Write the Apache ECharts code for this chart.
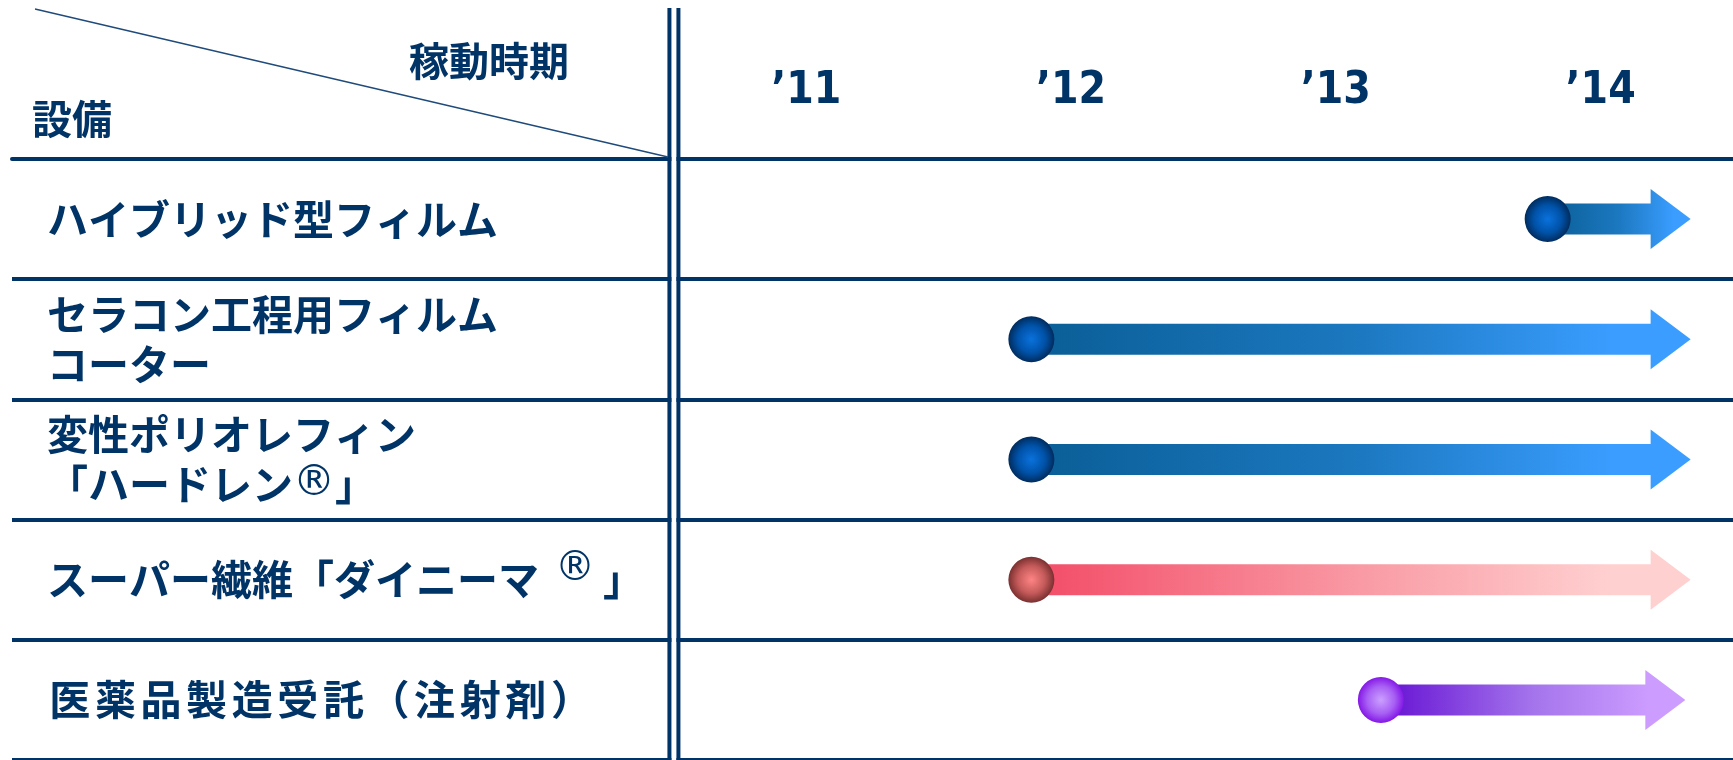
<!DOCTYPE html>
<html>
<head>
<meta charset="utf-8">
<script src="https://cdn.jsdelivr.net/npm/echarts@6/dist/echarts.min.js"></script>
<style>
html,body{margin:0;padding:0;background:#fff;}
#main{width:1733px;height:760px;}
</style>
</head>
<body>
<div id="main"></div>
<script>
// ---- data ----
const equipment = [
  'ハイブリッド型フィルム',
  'セラコン工程用フィルム\nコーター',
  '変性ポリオレフィン\n「ハードレン®」',
  'スーパー繊維「ダイニーマ®」',
  '医薬品製造受託（注射剤）'
];
const startYear = [2013.80, 2011.85, 2011.85, 2011.85, 2013.17];
const endYear   = [2014.34, 2014.34, 2014.34, 2014.34, 2014.32];
const colorKey  = [0, 0, 0, 1, 2];
const yearTicks  = [2011, 2012, 2013, 2014];
const yearLabels = ['’11', '’12', '’13', '’14'];
const headerPeriod = '稼動時期';
const headerEquip = '設備';

// ---- styles ----
const NAVY = '#003366';
const CJK = 'Noto Sans CJK JP';
const regStyle = ['r', 'r', 'r', 'sup', 'r'];      // how the ® mark is set per row
const spaced = [false, false, false, false, true];  // rows typeset with extra tracking
const palettes = [
  { bar: ['#0a5e96', '#1c78c0', '#3a9dff'], ball: ['#0a72dc', '#0052a8', '#002c5e'] },
  { bar: ['#f34b67', '#f99aa4', '#ffd0d0'], ball: ['#ff8484', '#c45a5a', '#7a3030'] },
  { bar: ['#6410d2', '#a474ec', '#cc9cff'], ball: ['#cba0ff', '#a860f4', '#8418e6'] }
];

const data = equipment.map((_, i) => [startYear[i], endYear[i], i, colorKey[i]]);

const chart = echarts.init(document.getElementById('main'), null, { renderer: 'canvas' });

function renderArrow(params, api) {
  const s = api.coord([api.value(0), api.value(2)]);
  const e = api.coord([api.value(1), api.value(2)]);
  const pal = palettes[api.value(3)];
  const y = s[1];
  const half = 15.5, headH = 30, headL = 40, r = 23;
  const hx = e[0] - headL;
  return {
    type: 'group',
    children: [
      {
        type: 'polygon',
        shape: { points: [[s[0], y - half], [hx, y - half], [hx, y - headH], [e[0], y], [hx, y + headH], [hx, y + half], [s[0], y + half]] },
        style: {
          fill: new echarts.graphic.LinearGradient(0, 0, 1, 0, [
            { offset: 0, color: pal.bar[0] },
            { offset: 0.5, color: pal.bar[1] },
            { offset: 0.88, color: pal.bar[2] },
            { offset: 1, color: pal.bar[2] }
          ])
        }
      },
      {
        type: 'circle',
        shape: { cx: s[0], cy: y, r: r },
        style: {
          fill: new echarts.graphic.RadialGradient(0.5, 0.5, 0.5, [
            { offset: 0, color: pal.ball[0] },
            { offset: 0.6, color: pal.ball[1] },
            { offset: 1, color: pal.ball[2] }
          ])
        }
      }
    ]
  };
}

function labelFormatter(v) {
  const i = equipment.indexOf(v);
  let out = '';
  for (const ch of v) {
    if (ch === '®') out += '{' + regStyle[i] + '|®}';
    else if (ch === '\n') out += '\n';
    else if (spaced[i]) out += '{sp|' + ch + '}';
    else out += ch;
  }
  return out;
}

const option = {
  animation: false,
  backgroundColor: '#fff',
  title: [
    { text: headerPeriod, left: 404, top: 36, textStyle: { color: NAVY, fontSize: 40, fontWeight: 'bold', fontFamily: CJK } },
    { text: headerEquip, left: 27, top: 94, textStyle: { color: NAVY, fontSize: 40, fontWeight: 'bold', fontFamily: CJK } }
  ],
  grid: { left: 12, right: 0, top: 159, bottom: 0 },
  xAxis: {
    type: 'value',
    position: 'top',
    min: 2008,
    max: 2014.5,
    interval: 0.5,
    axisLine: { show: true, lineStyle: { color: NAVY, width: 4 } },
    axisTick: { show: false },
    splitLine: { show: false },
    axisLabel: {
      margin: 45,
      color: NAVY,
      fontSize: 44,
      fontWeight: 'bold',
      fontFamily: "'Liberation Sans Narrow', 'DejaVu Sans Condensed', 'Liberation Sans', sans-serif",
      showMinLabel: false,
      showMaxLabel: false,
      formatter: function (v) {
        const i = yearTicks.indexOf(Math.round(v * 100) / 100);
        return i >= 0 ? yearLabels[i] : '';
      }
    }
  },
  yAxis: {
    type: 'category',
    data: equipment,
    inverse: true,
    axisLine: { show: false },
    axisTick: { show: false },
    splitLine: { show: true, lineStyle: { color: NAVY, width: 4 } },
    axisLabel: {
      inside: true,
      margin: 35,
      align: 'left',
      color: NAVY,
      fontSize: 41,
      fontWeight: 'bold',
      lineHeight: 50,
      fontFamily: CJK,
      formatter: labelFormatter,
      rich: {
        r: { fontSize: 42, fontFamily: 'DejaVu Sans', fontWeight: 'normal', color: NAVY, lineHeight: 50 },
        sup: { fontSize: 40, fontFamily: 'DejaVu Sans', fontWeight: 'normal', color: NAVY, lineHeight: 50, padding: [0, 8, 20, 16] },
        sp: { fontSize: 41, fontFamily: CJK, fontWeight: 'bold', color: NAVY, lineHeight: 50, padding: [0, 2.3, 0, 2.3] }
      }
    }
  },
  series: [{
    type: 'custom',
    renderItem: renderArrow,
    data: data,
    encode: { x: [0, 1], y: 2 },
    z: 5
  }]
};
chart.setOption(option);

// table chrome: divider double line at the start of the timeline & header diagonal
const d = chart.convertToPixel({ xAxisIndex: 0 }, 2010.5);
const bottom = 760;
chart.setOption({
  graphic: [
    { type: 'rect', z: 100, shape: { x: d - 2.5, y: 8, width: 5, height: bottom - 8 }, style: { fill: '#fff' } },
    { type: 'line', z: 101, shape: { x1: d - 4.5, y1: 8, x2: d - 4.5, y2: bottom }, style: { stroke: NAVY, lineWidth: 4 } },
    { type: 'line', z: 101, shape: { x1: d + 4.5, y1: 8, x2: d + 4.5, y2: bottom }, style: { stroke: NAVY, lineWidth: 4 } },
    { type: 'line', z: 101, shape: { x1: 35, y1: 9, x2: d - 6, y2: 157 }, style: { stroke: '#1f4a7a', lineWidth: 1.3 } }
  ]
});
</script>
</body>
</html>
